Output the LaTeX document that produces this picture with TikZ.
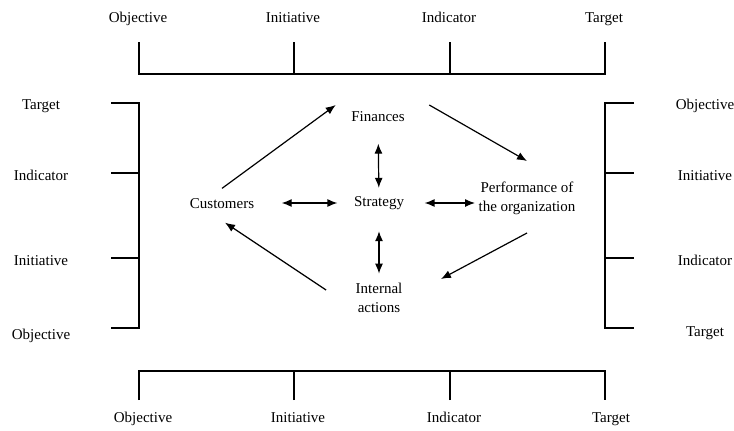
\documentclass[tikz,border=0pt]{standalone}
\usepackage{fontspec}
\setmainfont{Liberation Serif}
\usetikzlibrary{arrows.meta}
\tikzset{
  ctr/.style={font=\fontsize{15}{19}\selectfont, inner sep=3pt},
  lbl/.style={ctr, text height=10.5pt, text depth=3.5pt},
  box/.style={ctr, align=center},
  arr/.style={-{Latex[length=10pt,width=8pt]}},
  dbl/.style={{Latex[length=10pt,width=8pt]}-{Latex[length=10pt,width=8pt]}},
}
\begin{document}
\begin{tikzpicture}[x=1pt, y=-1pt, line width=1.2pt]
    \useasboundingbox (0,0) rectangle (734,431);
    % top row
    \node[lbl] (objT) at (138,19) {Objective};
    \node[lbl] (iniT) at (293,19) {Initiative};
    \node[lbl] (indT) at (449,19) {Indicator};
    \node[lbl] (tarT) at (604,19) {Target};
    \draw (139,42) -- (139,74) -- (605,74) -- (605,42);
    \draw (294,42) -- (294,74);
    \draw (450,42) -- (450,74);
    % left column
    \node[lbl] (tarL) at (41,106) {Target};
    \node[lbl] (indL) at (41,177) {Indicator};
    \node[lbl] (iniL) at (41,262) {Initiative};
    \node[lbl] (objL) at (41,336) {Objective};
    \draw (111,103) -- (139,103) -- (139,328) -- (111,328);
    \draw (111,173) -- (139,173);
    \draw (111,258) -- (139,258);
    % right column
    \node[lbl] (objR) at (705,106) {Objective};
    \node[lbl] (iniR) at (705,177) {Initiative};
    \node[lbl] (indR) at (705,262) {Indicator};
    \node[lbl] (tarR) at (705,333) {Target};
    \draw (634,103) -- (605,103) -- (605,328) -- (634,328);
    \draw (605,173) -- (634,173);
    \draw (605,258) -- (634,258);
    % bottom row
    \node[lbl] (objB) at (143,419) {Objective};
    \node[lbl] (iniB) at (298,419) {Initiative};
    \node[lbl] (indB) at (454,419) {Indicator};
    \node[lbl] (tarB) at (611,419) {Target};
    \draw (139,400) -- (139,371) -- (605,371) -- (605,400);
    \draw (294,400) -- (294,371);
    \draw (450,400) -- (450,371);
    % centre
    \node[ctr] (fin) at (378,117) {Finances};
    \node[ctr] (strat) at (379,203) {Strategy};
    \node[ctr] (cust) at (222,204) {Customers};
    \node[box] (perf) at (527,198) {Performance of\\the organization};
    \node[box] (intl) at (379,298) {Internal\\actions};
    \draw[arr] ([yshift=7pt]cust.north) -- ([xshift=-12pt,yshift=12pt]fin.west);
    \draw[arr] ([xshift=21pt,yshift=12pt]fin.east) -- ([yshift=17pt]perf.north);
    \draw[arr] ([yshift=-15pt]perf.south) -- ([xshift=35pt,yshift=19pt]intl.east);
    \draw[arr] ([xshift=-26pt,yshift=8pt]intl.west) -- ([xshift=3pt,yshift=-10pt]cust.south);
    \draw[dbl, shorten <=18pt, shorten >=5pt] (fin) -- (strat);
    \draw[dbl, shorten <=18pt, shorten >=6pt] (strat) -- (intl);
    \draw[dbl, shorten <=24pt, shorten >=13pt] (cust.east |- strat) -- (strat);
    \draw[dbl, shorten <=17pt] (strat.east) -- (strat.east -| perf.west);
\end{tikzpicture}
\end{document}
